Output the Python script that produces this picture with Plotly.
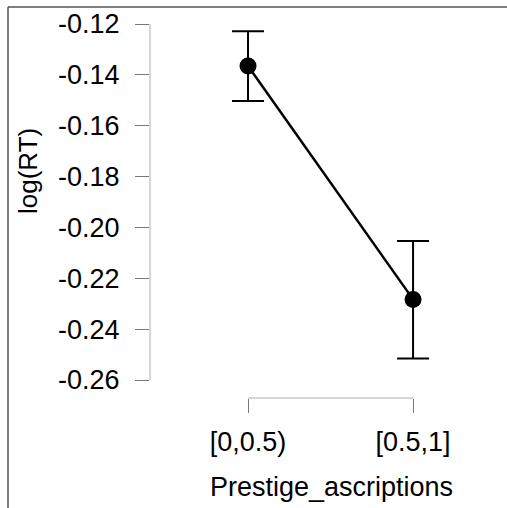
import plotly.graph_objects as go

categories = ["[0,0.5)", "[0.5,1]"]
means = [-0.1365, -0.2283]
upper = [-0.1228, -0.2053]
lower = [-0.1503, -0.2515]
y_ticks = [-0.12, -0.14, -0.16, -0.18, -0.20, -0.22, -0.24, -0.26]
y_tick_labels = ["-0.12", "-0.14", "-0.16", "-0.18", "-0.20", "-0.22", "-0.24", "-0.26"]
x_pos = [1, 2]

FONT = "Liberation Sans, Arial, sans-serif"
FS = 27

fig = go.Figure()
fig.add_trace(go.Scatter(
    x=x_pos, y=means, mode="lines+markers",
    line=dict(color="black", width=2.5),
    marker=dict(color="black", size=17),
    error_y=dict(type="data", symmetric=False,
                 array=[u - m for u, m in zip(upper, means)],
                 arrayminus=[m - l for m, l in zip(means, lower)],
                 color="black", thickness=2, width=16),
    showlegend=False, hoverinfo="skip",
))

fig.update_layout(
    width=507, height=508,
    margin=dict(l=150, r=20, t=10, b=110),
    paper_bgcolor="white", plot_bgcolor="white",
    font=dict(family=FONT, size=FS, color="black"),
    xaxis=dict(range=[0.406, 2.448], tickvals=x_pos, ticktext=categories,
               showgrid=False, zeroline=False, showline=False,
               ticks="outside", ticklen=14, tickcolor="#777777", tickwidth=1,
               ticklabelstandoff=6, tickfont=dict(size=FS)),
    yaxis=dict(range=[-0.26708, -0.11449], tickvals=y_ticks, ticktext=y_tick_labels,
               showgrid=False, zeroline=False, showline=False,
               ticks="outside", ticklen=14, tickcolor="#777777", tickwidth=1,
               ticklabelstandoff=10, tickfont=dict(size=FS)),
    shapes=[
        dict(type="line", xref="paper", yref="y", x0=0, x1=0, y0=y_ticks[0], y1=y_ticks[-1],
             line=dict(color="#c8c8c8", width=1.5)),
        dict(type="line", xref="x", yref="paper", x0=x_pos[0], x1=x_pos[-1], y0=0, y1=0,
             line=dict(color="#c8c8c8", width=1.5)),
        dict(type="line", xref="paper", yref="paper", x0=-142/337, x1=357/337, y0=(508-110-7)/388, y1=(508-110-7)/388,
             line=dict(color="#555555", width=1.5)),
        dict(type="line", xref="paper", yref="paper", x0=-142/337, x1=-142/337, y0=(508-110-7)/388, y1=-110/388,
             line=dict(color="#555555", width=1.5)),
    ],
    annotations=[
        dict(text="Prestige_ascriptions", xref="paper", yref="paper",
             x=(331-150)/337, y=(398-487)/388, showarrow=False, yanchor="middle", xanchor="center",
             font=dict(size=FS)),
        dict(text="log(RT)", xref="paper", yref="paper", textangle=-90,
             x=(28-150)/337, y=(398-171)/388, showarrow=False, yanchor="middle", xanchor="center",
             font=dict(size=26)),
    ],
)

fig.write_html("out.html")
